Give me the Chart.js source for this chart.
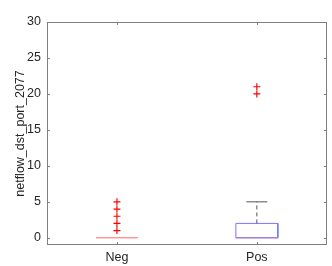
<!DOCTYPE html>
<html>
<head>
<meta charset="utf-8">
<script src="https://cdn.jsdelivr.net/npm/chart.js@4"></script>
<style>
  html, body { margin: 0; padding: 0; background: #fff; }
  #wrap { width: 332px; height: 266px; }
</style>
</head>
<body>
<div id="wrap"><canvas id="chart" width="332" height="266"></canvas></div>
<script>
// box plot summary, one entry per group
var categories = ['Neg', 'Pos'];
var q1Values = [0, 0];
var medianValues = [0, 0];
var q3Values = [0, 2];
var whiskerLow = [0, 0];
var whiskerHigh = [0, 5];
var outliers = [[1, 2, 3, 4, 5], [20, 21]];
var yTicks = [0, 5, 10, 15, 20, 25, 30];

var boxHalf = 0.15, capHalf = 0.075;
var axisColor = '#262626';
var frameColor = '#808080';
var fontFamily = 'Liberation Sans, Arial, sans-serif';

function seg(x0, y0, x1, y1) {
    return [{x: x0, y: y0}, {x: x1, y: y1}];
}

var datasets = [];
categories.forEach(function(cat, i) {
    var x = i + 1;
    // upper whisker (dashed) + cap
    if (whiskerHigh[i] > q3Values[i]) {
        datasets.push({data: seg(x, q3Values[i], x, whiskerHigh[i]), borderColor: '#555', borderDash: [4, 3]});
        datasets.push({data: seg(x - capHalf, whiskerHigh[i], x + capHalf, whiskerHigh[i]), borderColor: '#555'});
    }
    if (whiskerLow[i] < q1Values[i]) {
        datasets.push({data: seg(x, whiskerLow[i], x, q1Values[i]), borderColor: '#555', borderDash: [4, 3]});
        datasets.push({data: seg(x - capHalf, whiskerLow[i], x + capHalf, whiskerLow[i]), borderColor: '#555'});
    }
    // box outline
    if (q3Values[i] > q1Values[i]) {
        datasets.push({
            data: [
                {x: x - boxHalf, y: q1Values[i]}, {x: x - boxHalf, y: q3Values[i]},
                {x: x + boxHalf, y: q3Values[i]}, {x: x + boxHalf, y: q1Values[i]},
                {x: x - boxHalf, y: q1Values[i]}
            ],
            borderColor: '#7777ff'
        });
    }
    // median
    datasets.push({data: seg(x - boxHalf, medianValues[i], x + boxHalf, medianValues[i]), borderColor: '#ff6666'});
    // outliers
    datasets.push({
        data: outliers[i].map(function(v) { return {x: x, y: v}; }),
        showLine: false,
        pointStyle: 'cross',
        pointRadius: 3.5,
        pointBorderWidth: 1.2,
        pointBorderColor: '#ff0000',
        borderColor: '#ff0000'
    });
});

datasets.forEach(function(d) {
    if (d.showLine === undefined) d.showLine = true;
    if (d.pointRadius === undefined) d.pointRadius = 0;
    d.borderWidth = 1;
    d.fill = false;
});

// frame and inward ticks like the original plotting tool
var framePlugin = {
    id: 'frame',
    afterDraw: function(chart) {
        var ctx = chart.ctx, a = chart.chartArea;
        var xs = chart.scales.x, ys = chart.scales.y;
        ctx.save();
        ctx.strokeStyle = frameColor;
        ctx.lineWidth = 1;
        ctx.strokeRect(Math.round(a.left) + 0.5, Math.round(a.top) + 0.5,
            Math.round(a.right - a.left) - 1, Math.round(a.bottom - a.top) - 1);
        ctx.beginPath();
        yTicks.forEach(function(v) {
            var py = Math.round(ys.getPixelForValue(v)) + 0.5;
            ctx.moveTo(a.left, py); ctx.lineTo(a.left + 3, py);
            ctx.moveTo(a.right, py); ctx.lineTo(a.right - 3, py);
        });
        categories.forEach(function(c, i) {
            var px = Math.round(xs.getPixelForValue(i + 1)) + 0.5;
            ctx.moveTo(px, a.bottom); ctx.lineTo(px, a.bottom - 3);
            ctx.moveTo(px, a.top); ctx.lineTo(px, a.top + 3);
        });
        ctx.stroke();
        ctx.restore();
    }
};

new Chart(document.getElementById('chart').getContext('2d'), {
    type: 'scatter',
    data: {datasets: datasets},
    options: {
        responsive: false,
        animation: false,
        layout: {padding: {left: 0, right: 1, top: 22, bottom: 0}},
        plugins: {legend: {display: false}, tooltip: {enabled: false}},
        scales: {
            x: {
                type: 'linear',
                min: 0.5,
                max: 2.5,
                afterBuildTicks: function(scale) {
                    scale.ticks = categories.map(function(c, i) { return {value: i + 1}; });
                },
                afterFit: function(scale) { scale.height = 21; },
                grid: {display: false, drawTicks: false},
                border: {display: false},
                ticks: {
                    color: axisColor,
                    padding: 5,
                    font: {family: fontFamily, size: 12.5},
                    callback: function(v) { return categories[v - 1]; }
                }
            },
            y: {
                min: -1,
                max: 30,
                afterBuildTicks: function(scale) {
                    scale.ticks = yTicks.map(function(v) { return {value: v}; });
                },
                afterFit: function(scale) { scale.width = 47; },
                grid: {display: false, drawTicks: false},
                border: {display: false},
                title: {
                    display: true,
                    text: 'netflow_dst_port_2077',
                    color: axisColor,
                    padding: {top: 13, bottom: 0},
                    font: {family: fontFamily, size: 12.5}
                },
                ticks: {
                    color: axisColor,
                    padding: 6,
                    font: {family: fontFamily, size: 12.5}
                }
            }
        }
    },
    plugins: [framePlugin]
});
</script>
</body>
</html>
